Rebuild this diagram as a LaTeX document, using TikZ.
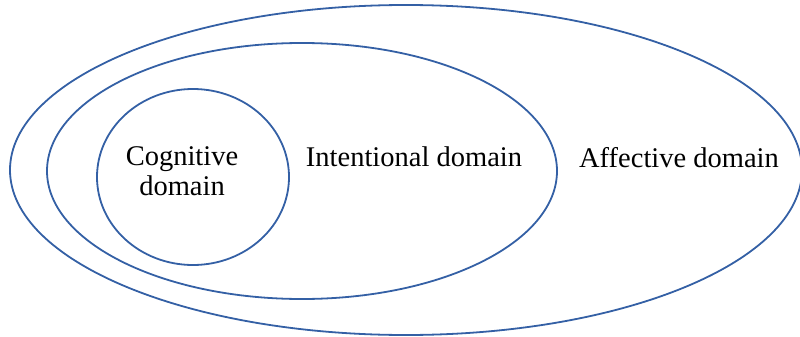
\documentclass[tikz,border=0pt]{standalone}
\usepackage{fontspec}
\setmainfont{Liberation Serif}
\definecolor{ringblue}{RGB}{52,96,165}
\begin{document}
\begin{tikzpicture}[x=1pt,y=-1pt,
  ring/.style={draw=ringblue,line width=1.8pt},
  label/.style={font=\fontsize{28.5}{30}\selectfont,align=center,inner sep=0pt}]
\useasboundingbox (0,0) rectangle (800,337);
\clip (0,0) rectangle (800,337);
% nested domains
\draw[ring] (406,170) ellipse [x radius=396, y radius=165];
\draw[ring] (302,171) ellipse [x radius=255, y radius=128];
\draw[ring] (193,177) ellipse [x radius=96, y radius=88];
% labels
\node[label] (cog) at (182,171) {Cognitive\\domain};
\node[label] (int) at (414,157) {Intentional domain};
\node[label] (aff) at (679,158) {Affective domain};
\end{tikzpicture}
\end{document}
